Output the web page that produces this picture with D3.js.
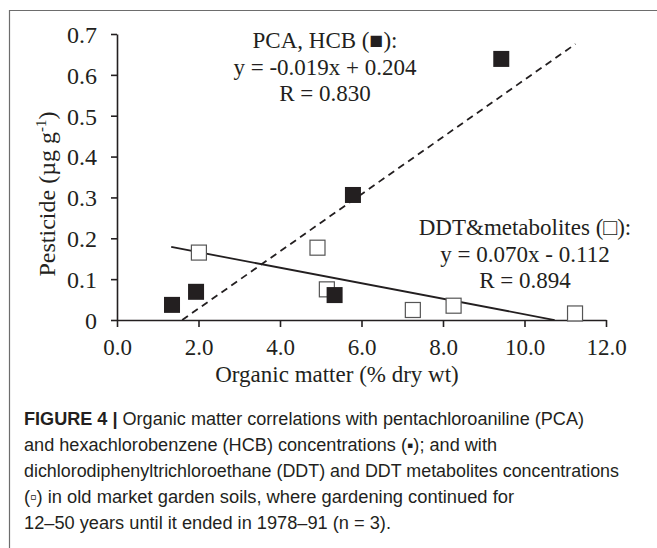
<!DOCTYPE html>
<html><head><meta charset="utf-8">
<script src="https://cdn.jsdelivr.net/npm/d3@7/dist/d3.min.js"></script>
<style>body{margin:0;background:#fff;} svg{display:block;}</style>
</head><body>
<script>
// ---- data ----
const pcaX = [1.35, 1.94, 5.34, 5.79, 9.43];
const pcaY = [0.037, 0.069, 0.061, 0.306, 0.639];
const ddtX = [2.01, 4.92, 5.15, 7.26, 8.26, 11.24];
const ddtY = [0.165, 0.177, 0.075, 0.0245, 0.035, 0.016];
// regression lines: [slope, intercept, xStart, xEnd]
const dashedLine = [0.070, -0.112, 1.6, 11.25];
const solidLine = [-0.019, 0.204, 1.33, 10.74];
const xTicks = [0, 2, 4, 6, 8, 10, 12];
const xTickLabels = ["0.0", "2.0", "4.0", "6.0", "8.0", "10.0", "12.0"];
const yTicks = [0, 0.1, 0.2, 0.3, 0.4, 0.5, 0.6, 0.7];
const yTickLabels = ["0", "0.1", "0.2", "0.3", "0.4", "0.5", "0.6", "0.7"];
const pcaText = ["PCA, HCB (\u25A0):", "y = -0.019x + 0.204", "R = 0.830"];
const ddtText = ["DDT&metabolites (\u25A1):", "y = 0.070x - 0.112", "R = 0.894"];
const xTitle = "Organic matter (% dry wt)";
const captionLines = [
  ["FIGURE 4 | ", "Organic matter correlations with pentachloroaniline (PCA)"],
  ["", "and hexachlorobenzene (HCB) concentrations (\u25AA); and with"],
  ["", "dichlorodiphenyltrichloroethane (DDT) and DDT metabolites concentrations"],
  ["", "(\u25AB) in old market garden soils, where gardening continued for"],
  ["", "12\u201350 years until it ended in 1978\u201391 (n = 3)."]
];
const captionWidths = [560, 473, 595, 490, 367];

// ---- drawing ----
const W = 657, H = 548;
const svg = d3.select("body").append("svg").attr("width", W).attr("height", H);
const serif = "'Liberation Serif','Times New Roman',serif";

// frame
svg.append("path").attr("d", "M9.5,548 V10.5 H657").attr("fill", "none").attr("stroke", "#6d6d6d").attr("stroke-width", 1.2);

const x = d3.scaleLinear().domain([0, 12]).range([117, 606]);
const y = d3.scaleLinear().domain([0, 0.7]).range([320, 34]);

// axes
const xAxis = d3.axisBottom(x).tickValues(xTicks).tickFormat((d, i) => xTickLabels[i]).tickSize(7).tickSizeOuter(0).tickPadding(12);
const gx = svg.append("g").attr("transform", `translate(0,${y(0)})`).call(xAxis);
const yAxis = d3.axisLeft(y).tickValues(yTicks).tickFormat((d, i) => yTickLabels[i]).tickSize(6).tickSizeOuter(0).tickPadding(14);
const gy = svg.append("g").attr("transform", `translate(${x(0)},0)`).call(yAxis);
[gx, gy].forEach(g => {
  g.select(".domain").attr("stroke", "#231f20").attr("stroke-width", 1.6);
  g.selectAll(".tick line").attr("stroke", "#231f20").attr("stroke-width", 1.6);
  g.selectAll(".tick text").attr("font-family", serif).attr("font-size", 24).attr("fill", "#231f20");
});
gx.selectAll(".tick text").attr("font-size", 23).attr("y", 0).attr("dy", 0)
  .attr("transform", "translate(0,35)");
gy.selectAll(".tick text").attr("dy", "0.35em");

// regression lines
function lineSeg(p) {
  return [[p[2], p[0] * p[2] + p[1]], [p[3], p[0] * p[3] + p[1]]];
}
const lg = d3.line().x(d => x(d[0])).y(d => y(d[1]));
svg.append("path").attr("d", lg(lineSeg(dashedLine))).attr("fill", "none")
  .attr("stroke", "#231f20").attr("stroke-width", 1.8).attr("stroke-dasharray", "7,5");
svg.append("path").attr("d", lg(lineSeg(solidLine))).attr("fill", "none")
  .attr("stroke", "#231f20").attr("stroke-width", 1.8);

// points
const sq = 16;
svg.append("g").selectAll("rect").data(ddtX).join("rect")
  .attr("x", (d) => x(d) - sq / 2 + 0.5).attr("y", (d, i) => y(ddtY[i]) - sq / 2 + 0.5)
  .attr("width", sq - 1).attr("height", sq - 1)
  .attr("fill", "#fff").attr("stroke", "#555").attr("stroke-width", 1.2);
svg.append("g").selectAll("rect").data(pcaX).join("rect")
  .attr("x", (d) => x(d) - sq / 2).attr("y", (d, i) => y(pcaY[i]) - sq / 2)
  .attr("width", sq).attr("height", sq).attr("fill", "#231f20");

// annotations
function block(lines, cx, y0) {
  svg.append("g").selectAll("text").data(lines).join("text")
    .attr("x", cx).attr("y", (d, i) => y0 + i * 26.5)
    .attr("text-anchor", "middle").attr("font-family", serif).attr("font-size", 23).attr("fill", "#231f20")
    .text(d => d);
}
block(pcaText, 325, 48);
block(ddtText, 525, 235);

// axis titles
svg.append("text").attr("x", 337).attr("y", 382).attr("text-anchor", "middle")
  .attr("font-family", serif).attr("font-size", 23).attr("fill", "#231f20").text(xTitle);
const yt = svg.append("text").attr("transform", "translate(55,194) rotate(-90)").attr("text-anchor", "middle")
  .attr("font-family", serif).attr("font-size", 24).attr("fill", "#231f20");
yt.append("tspan").text("Pesticide (\u00B5g g");
yt.append("tspan").attr("font-size", 15).attr("dy", -9).text("-1");
yt.append("tspan").attr("dy", 9).text(")");

// caption
const cap = svg.append("g");
captionLines.forEach((ln, i) => {
  const t = cap.append("text").attr("x", 24).attr("y", 425 + i * 26)
    .attr("font-family", "'Liberation Sans Narrow','Arial Narrow','Liberation Sans',Arial,sans-serif")
    .attr("font-size", 17.5).attr("fill", "#231f20")
    .attr("textLength", captionWidths[i]).attr("lengthAdjust", "spacingAndGlyphs");
  if (ln[0]) t.append("tspan").attr("font-weight", "bold").text(ln[0]);
  t.append("tspan").text(ln[1]);
});
</script>
</body></html>
